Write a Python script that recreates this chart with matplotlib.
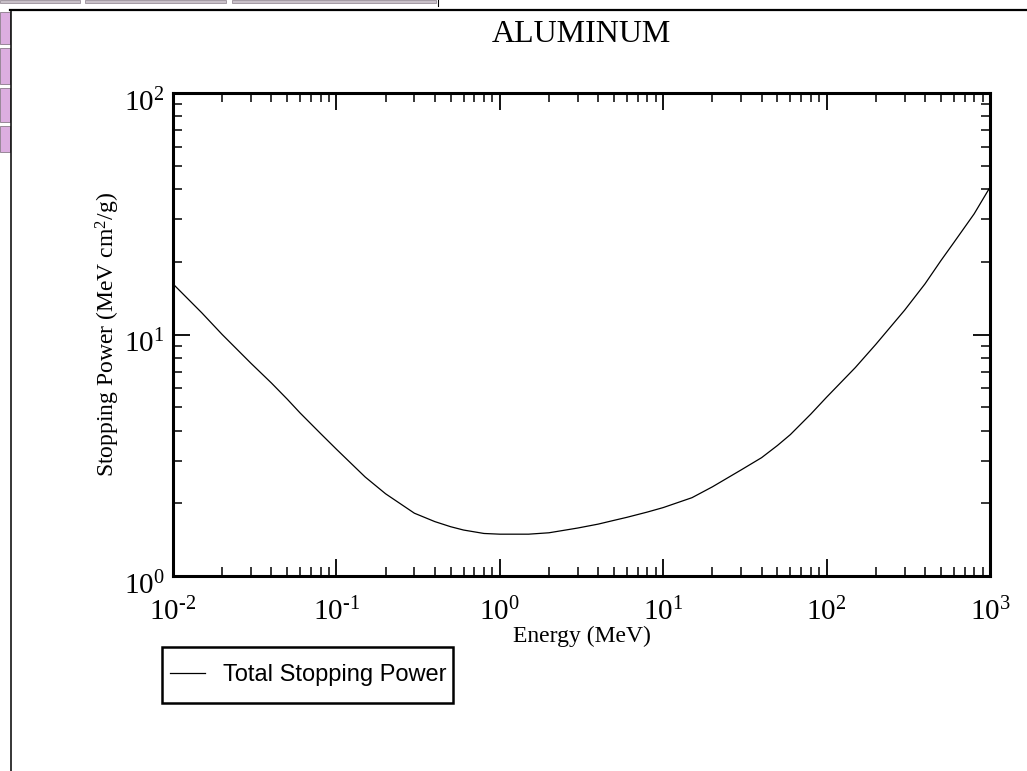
import matplotlib
matplotlib.use("Agg")
import matplotlib.pyplot as plt
from matplotlib.patches import Rectangle
from matplotlib.lines import Line2D
from matplotlib.transforms import ScaledTranslation
from matplotlib.ticker import LogLocator, FuncFormatter, NullFormatter
import math

# ---- data ----
energy_mev = [0.01, 0.015, 0.02, 0.03, 0.04, 0.05, 0.06, 0.08, 0.1, 0.15, 0.2, 0.3,
              0.4, 0.5, 0.6, 0.8, 1.0, 1.5, 2.0, 3.0, 4.0, 5.0, 6.0, 8.0, 10.0, 15.0,
              20.0, 30.0, 40.0, 50.0, 60.0, 80.0, 100.0, 150.0, 200.0, 300.0, 400.0,
              500.0, 600.0, 800.0, 1000.0]
total_stopping = [16.2, 12.3, 10.0, 7.6, 6.3, 5.4, 4.73, 3.89, 3.35, 2.57, 2.19, 1.82,
                  1.68, 1.60, 1.55, 1.50, 1.49, 1.49, 1.51, 1.58, 1.64, 1.70, 1.75, 1.84,
                  1.92, 2.11, 2.34, 2.75, 3.09, 3.47, 3.85, 4.68, 5.5, 7.3, 9.1, 12.6,
                  16.2, 20.2, 24.0, 31.6, 40.7]
title = "ALUMINUM"
xlabel = "Energy (MeV)"
ylabel = r"Stopping Power (MeV cm$^{2}$/g)"
legend_label = "Total Stopping Power"

plt.rcParams["font.family"] = ["Liberation Serif", "DejaVu Serif"]
plt.rcParams["mathtext.fontset"] = "custom"
plt.rcParams["mathtext.rm"] = "Liberation Serif"
plt.rcParams["mathtext.it"] = "Liberation Serif:italic"
plt.rcParams["mathtext.bf"] = "Liberation Serif:bold"

W, H = 1027, 771
fig = plt.figure(figsize=(W / 100, H / 100), dpi=100)

def fx(px):
    return px / W

def fy(py):
    return 1 - py / H

# page decorations around the graph
fig.add_artist(Line2D([fx(10), fx(1027)], [fy(10), fy(10)], color="black", lw=1.6,
                      transform=fig.transFigure))
fig.add_artist(Line2D([fx(11), fx(11)], [fy(10), fy(771)], color="black", lw=1.1,
                      transform=fig.transFigure))
for x0, x1 in [(0, 80), (85, 226), (232, 436)]:
    fig.add_artist(Rectangle((fx(x0), fy(3)), fx(x1 - x0), 3 / H, facecolor="#c8c0c8",
                             edgecolor="#9a909a", lw=0.6, transform=fig.transFigure))
fig.add_artist(Line2D([fx(438), fx(438)], [fy(0), fy(6)], color="black", lw=0.8,
                      transform=fig.transFigure))
for y0, y1 in [(12, 44), (48, 84), (88, 122), (126, 152)]:
    fig.add_artist(Rectangle((fx(0), fy(y1)), fx(10), (y1 - y0) / H, facecolor="#dcaee0",
                             edgecolor="#8a7a8a", lw=0.6, transform=fig.transFigure))

ax = fig.add_axes([fx(173), fy(576), fx(990 - 173), (576 - 93) / H])
line, = ax.plot(energy_mev, total_stopping, color="black", lw=0.9)
ax.set_xscale("log")
ax.set_yscale("log")
ax.set_xlim(1e-2, 1e3)
ax.set_ylim(1e0, 1e2)

for sp in ax.spines.values():
    sp.set_linewidth(2.2)


def pow10(v, pos):
    e = int(round(math.log10(v)))
    s = str(abs(e))
    if e < 0:
        s = "\u2010" + s
    return r"$\mathdefault{10^{%s}}$" % s


ax.xaxis.set_major_locator(LogLocator(base=10, numticks=20))
ax.xaxis.set_minor_locator(LogLocator(base=10, subs=range(2, 10), numticks=20))
ax.yaxis.set_major_locator(LogLocator(base=10, numticks=20))
ax.yaxis.set_minor_locator(LogLocator(base=10, subs=range(2, 10), numticks=20))
ax.xaxis.set_major_formatter(FuncFormatter(pow10))
ax.yaxis.set_major_formatter(FuncFormatter(pow10))
ax.xaxis.set_minor_formatter(NullFormatter())
ax.yaxis.set_minor_formatter(NullFormatter())

ax.tick_params(which="both", direction="in", top=True, right=True, colors="black")
ax.tick_params(which="major", length=12, width=1.3, labelsize=21, pad=16)
ax.tick_params(which="minor", length=6.5, width=1.1)
ax.tick_params(axis="y", which="major", pad=6)

ax.set_title(title, fontsize=23, pad=37)
ax.set_xlabel(xlabel, fontsize=17, va="top")
ax.xaxis.set_label_coords(0.5, (576 - 626) / 483)
ax.set_ylabel(ylabel, fontsize=17, va="bottom")
ax.yaxis.set_label_coords((122 - 173) / 817, 0.5)

fig.canvas.draw()
shift = ScaledTranslation(0, -7 / 100, fig.dpi_scale_trans)
for lbl in ax.get_yticklabels():
    lbl.set_transform(lbl.get_transform() + shift)

# legend box (frame drawn separately, legend entry drawn inside)
fig.add_artist(Rectangle((fx(162), fy(703)), fx(453 - 162), (703 - 647) / H,
                         facecolor="none", edgecolor="black", lw=1.8,
                         transform=fig.transFigure))
leg = ax.legend([line], [legend_label], loc="center left",
                bbox_to_anchor=(fx(170), fy(675)), bbox_transform=fig.transFigure,
                borderaxespad=0, frameon=False, handlelength=1.48,
                handletextpad=0.76, borderpad=0,
                prop={"family": "Liberation Sans", "size": 17})

fig.savefig("out.png", dpi=100)
